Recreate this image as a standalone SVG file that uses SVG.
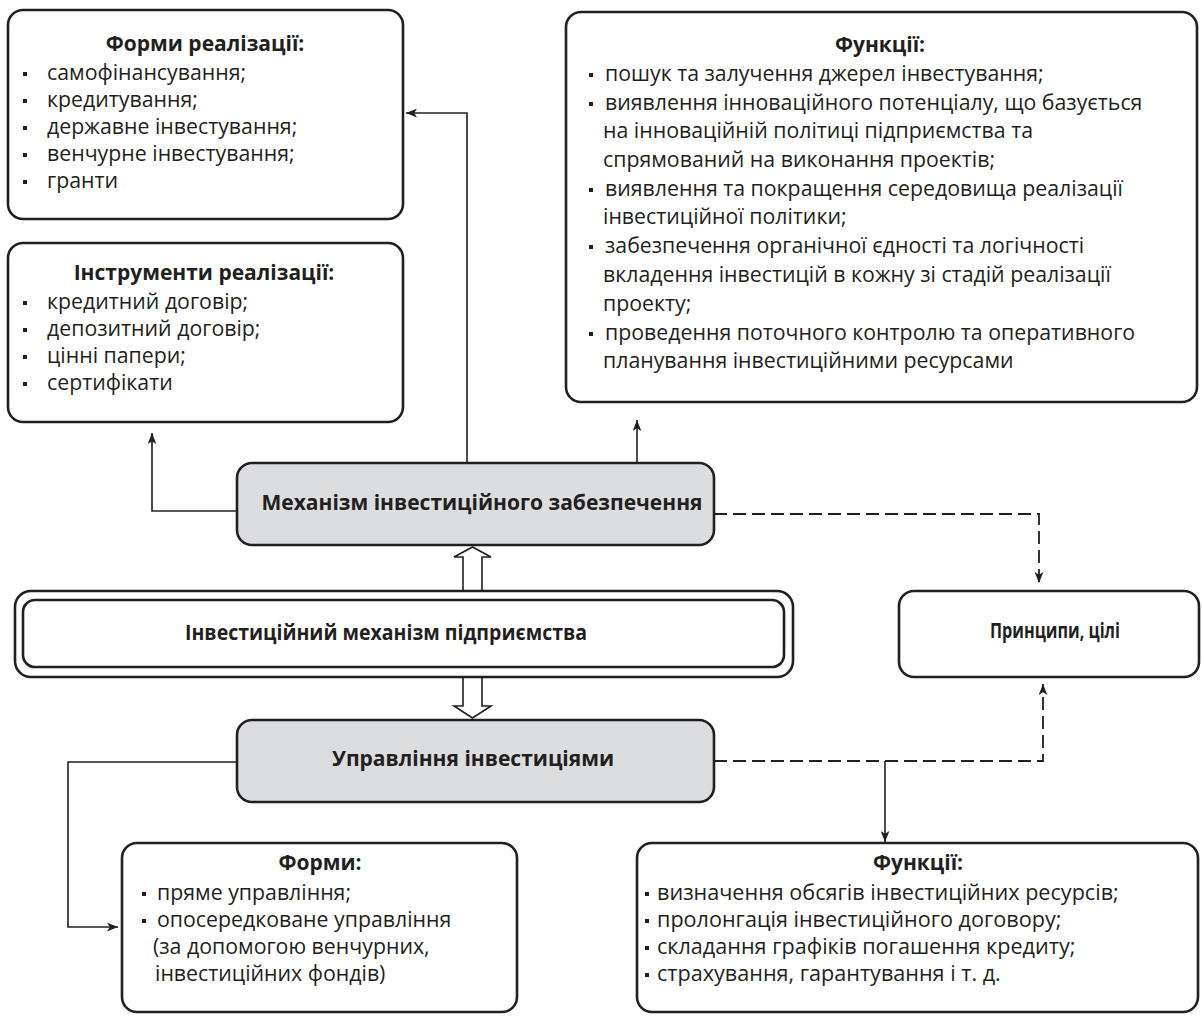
<svg xmlns="http://www.w3.org/2000/svg" width="1203" height="1017" viewBox="0 0 1203 1017">
<style>
.box{fill:#ffffff;stroke:#231f20;stroke-width:2.6}
.gbox{fill:#dcdddf;stroke:#231f20;stroke-width:2.6}
.t{font-family:"Open Sans","Noto Sans",sans-serif;font-size:21.3px;fill:#231f20}
.t2{font-family:"Open Sans","Noto Sans",sans-serif;font-size:21.6px;fill:#231f20}
.b{font-family:"Open Sans","Noto Sans",sans-serif;font-size:21px;font-weight:bold;fill:#231f20}
.c{font-family:"Open Sans","Noto Sans",sans-serif;font-size:21px;font-weight:bold;fill:#231f20}
.bul{fill:#231f20}
.ln{fill:none;stroke:#231f20;stroke-width:1.6}
.dl{fill:none;stroke:#231f20;stroke-width:1.8;stroke-dasharray:13 6}
.hollow{fill:#ffffff;stroke:#231f20;stroke-width:1.6;stroke-linejoin:miter}
</style>
<defs>
<marker id="ah" viewBox="0 0 10 8" refX="10" refY="4" markerWidth="11" markerHeight="9" markerUnits="userSpaceOnUse" orient="auto">
<path d="M0,0 L10,4 L0,8 L2.5,4 z" fill="#231f20"/>
</marker>
</defs>

<g id="connectors">
<polyline class="ln" points="467,463 467,113 406,113" marker-end="url(#ah)"/>
<line class="ln" x1="637" y1="463" x2="637" y2="420" marker-end="url(#ah)"/>
<polyline class="ln" points="237,511 152,511 152,433" marker-end="url(#ah)"/>
<polyline class="dl" points="714,514 1039,514 1039,583" marker-end="url(#ah)"/>
<polyline class="ln" points="237,762 68,762 68,927 118,927" marker-end="url(#ah)"/>
<polyline class="dl" points="714,761 1043,761 1043,684" marker-end="url(#ah)"/>
<line class="ln" x1="885" y1="761" x2="885" y2="842" marker-end="url(#ah)"/>
<path class="hollow" d="M463,591 L463,557 L454,557 L472.5,547 L491,557 L482,557 L482,591"/>
<path class="hollow" d="M463,677 L463,706 L454,706 L472.5,718 L491,706 L482,706 L482,677"/>
</g>

<g id="forms-realization">
<rect class="box" x="8" y="10" width="395" height="209" rx="15"/>
<text class="b" x="205" y="51" text-anchor="middle">Форми реалізації:</text>
<rect class="bul" x="23" y="72" width="4" height="4"/>
<text class="t" x="47" y="80">самофінансування;</text>
<rect class="bul" x="23" y="99" width="4" height="4"/>
<text class="t" x="47" y="107">кредитування;</text>
<rect class="bul" x="23" y="126" width="4" height="4"/>
<text class="t" x="47" y="134">державне інвестування;</text>
<rect class="bul" x="23" y="153" width="4" height="4"/>
<text class="t" x="47" y="161">венчурне інвестування;</text>
<rect class="bul" x="23" y="180" width="4" height="4"/>
<text class="t" x="47" y="188">гранти</text>
</g>

<g id="instruments">
<rect class="box" x="8" y="243" width="395" height="179" rx="15"/>
<text class="b" x="204" y="280" text-anchor="middle">Інструменти реалізації:</text>
<rect class="bul" x="23" y="301" width="4" height="4"/>
<text class="t" x="47" y="309">кредитний договір;</text>
<rect class="bul" x="23" y="328" width="4" height="4"/>
<text class="t" x="47" y="336">депозитний договір;</text>
<rect class="bul" x="23" y="355" width="4" height="4"/>
<text class="t" x="47" y="363">цінні папери;</text>
<rect class="bul" x="23" y="382" width="4" height="4"/>
<text class="t" x="47" y="390">сертифікати</text>
</g>

<g id="functions-top">
<rect class="box" x="566" y="12" width="631" height="390" rx="15"/>
<text class="c" x="880" y="52" text-anchor="middle">Функції:</text>
<rect class="bul" x="589" y="73" width="4" height="4"/>
<text class="t" x="605" y="81">пошук та залучення джерел інвестування;</text>
<rect class="bul" x="589" y="102" width="4" height="4"/>
<text class="t" x="605" y="110">виявлення інноваційного потенціалу, що базується</text>
<text class="t" x="603" y="138">на інноваційній політиці підприємства та</text>
<text class="t" x="603" y="167">спрямований на виконання проектів;</text>
<rect class="bul" x="589" y="188" width="4" height="4"/>
<text class="t" x="605" y="196">виявлення та покращення середовища реалізації</text>
<text class="t" x="603" y="224">інвестиційної політики;</text>
<rect class="bul" x="589" y="245" width="4" height="4"/>
<text class="t" x="605" y="253">забезпечення органічної єдності та логічності</text>
<text class="t" x="603" y="282">вкладення інвестицій в кожну зі стадій реалізації</text>
<text class="t" x="603" y="311">проекту;</text>
<rect class="bul" x="589" y="332" width="4" height="4"/>
<text class="t" x="605" y="340">проведення поточного контролю та оперативного</text>
<text class="t" x="603" y="368">планування інвестиційними ресурсами</text>
</g>

<g id="mechanism-support">
<rect class="gbox" x="237" y="463" width="477" height="82" rx="15"/>
<text class="b" x="482" y="510" text-anchor="middle">Механізм інвестиційного забезпечення</text>
</g>

<g id="investment-mechanism">
<rect class="box" x="15" y="591" width="778" height="86" rx="16"/>
<rect class="box" x="23" y="600" width="761" height="67" rx="12"/>
<text class="b" x="386" y="640" text-anchor="middle" textLength="402" lengthAdjust="spacingAndGlyphs">Інвестиційний механізм підприємства</text>
</g>

<g id="principles">
<rect class="box" x="899" y="591" width="300" height="86" rx="15"/>
<text class="c" x="1055" y="638" text-anchor="middle" textLength="130" lengthAdjust="spacingAndGlyphs">Принципи, цілі</text>
</g>

<g id="investment-management">
<rect class="gbox" x="237" y="720" width="477" height="82" rx="15"/>
<text class="b" x="473" y="766" text-anchor="middle">Управління інвестиціями</text>
</g>

<g id="forms">
<rect class="box" x="122" y="843" width="395" height="169" rx="15"/>
<text class="b" x="320" y="870" text-anchor="middle">Форми:</text>
<rect class="bul" x="142" y="892" width="4" height="4"/>
<text class="t" x="157" y="900">пряме управління;</text>
<rect class="bul" x="142" y="919" width="4" height="4"/>
<text class="t" x="157" y="927">опосередковане управління</text>
<text class="t" x="153" y="954">(за допомогою венчурних,</text>
<text class="t" x="155" y="981">інвестиційних фондів)</text>
</g>

<g id="functions-bottom">
<rect class="box" x="637" y="843" width="561" height="169" rx="15"/>
<text class="c" x="918" y="870" text-anchor="middle">Функції:</text>
<rect class="bul" x="645" y="892" width="4" height="4"/>
<text class="t2" x="657" y="900">визначення обсягів інвестиційних ресурсів;</text>
<rect class="bul" x="645" y="919" width="4" height="4"/>
<text class="t2" x="657" y="927">пролонгація інвестиційного договору;</text>
<rect class="bul" x="645" y="946" width="4" height="4"/>
<text class="t2" x="657" y="954">складання графіків погашення кредиту;</text>
<rect class="bul" x="645" y="973" width="4" height="4"/>
<text class="t2" x="657" y="981">страхування, гарантування і т. д.</text>
</g>
</svg>
